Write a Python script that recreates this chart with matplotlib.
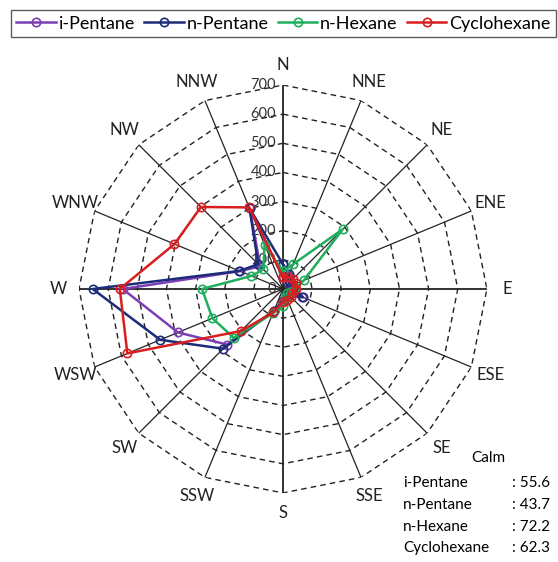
import numpy as np
import matplotlib.pyplot as plt

plt.rcParams['font.family'] = ['Lato', 'DejaVu Sans']

directions = ["N", "NNE", "NE", "ENE", "E", "ESE", "SE", "SSE",
              "S", "SSW", "SW", "WSW", "W", "WNW", "NW", "NNW"]
i_pentane = [40, 50, 30, 35, 30, 70, 30, 25, 40, 80, 270, 390, 550, 160, 110, 300]
n_pentane = [85, 55, 35, 30, 40, 75, 30, 25, 40, 80, 290, 456, 653, 162, 120, 300]
n_hexane = [60, 92, 290, 78, 40, 30, 20, 30, 60, 90, 238, 262, 278, 117, 95, 165]
cyclohexane = [40, 45, 50, 50, 45, 35, 40, 40, 45, 87, 204, 578, 560, 403, 398, 303]
ring_values = [100, 200, 300, 400, 500, 600, 700]
calm_names = ["i-Pentane", "n-Pentane", "n-Hexane", "Cyclohexane"]
calm_values = [55.6, 43.7, 72.2, 62.3]

series = [("i-Pentane", i_pentane, "#7a3fb5"),
          ("n-Pentane", n_pentane, "#1c2c78"),
          ("n-Hexane", n_hexane, "#1fae5e"),
          ("Cyclohexane", cyclohexane, "#d81e1e")]

fig = plt.figure(figsize=(5.58, 5.62), dpi=100)
ax = fig.add_axes([0.1416, 0.1228, 0.731, 0.726], projection="polar")
ax.set_theta_zero_location("N")
ax.set_theta_direction(-1)
ax.set_ylim(0, 700)
ax.grid(False)
ax.spines["polar"].set_visible(False)
ax.set_xticks([])
ax.set_yticks([])

theta = np.deg2rad(np.arange(16) * 22.5)
theta_closed = np.append(theta, theta[0])

# dashed polygon rings
for rv in ring_values:
    ax.plot(theta_closed, [rv] * 17, ls=(0, (4, 3)), color="#222222", lw=1.0, zorder=1)
# spokes
for t in theta:
    lw = 1.3 if t % (np.pi / 2) < 1e-6 else 0.9
    ax.plot([t, t], [0, 700], color="#222222", lw=lw, zorder=1)

# radial labels along N axis
for rv in [0] + ring_values:
    ax.annotate(str(rv), xy=(0, rv), xytext=(-5, 0), textcoords="offset points",
                ha="right", va="center", fontsize=10.5, color="#333333", zorder=2)

# direction labels
for t, d in zip(theta, directions):
    ax.text(t, 770, d, ha="center", va="center", fontsize=12, color="#222222")

handles = []
for name, vals, col in series:
    v = np.append(vals, vals[0])
    h, = ax.plot(theta_closed, v, color=col, lw=1.8, marker="o", ms=6,
                 mfc="none", mec=col, mew=1.2, label=name, zorder=3)
    handles.append(h)

fig.legend(handles=handles, loc="upper center", bbox_to_anchor=(0.508, 0.982),
           ncol=4, frameon=True, fancybox=False, edgecolor="#333333",
           fontsize=13, handlelength=2.2, handletextpad=0.15, columnspacing=0.5,
           borderpad=0.3, borderaxespad=0.0)

fig.text(0.875, 0.185, "Calm", ha="center", va="center", fontsize=11)
ys = [0.141, 0.101, 0.062, 0.025]
for nm, val, y in zip(calm_names, calm_values, ys):
    fig.text(0.722, y, nm, ha="left", va="center", fontsize=11)
    fig.text(0.918, y, ": %.1f" % val, ha="left", va="center", fontsize=11)

fig.savefig("out.png", dpi=100)
